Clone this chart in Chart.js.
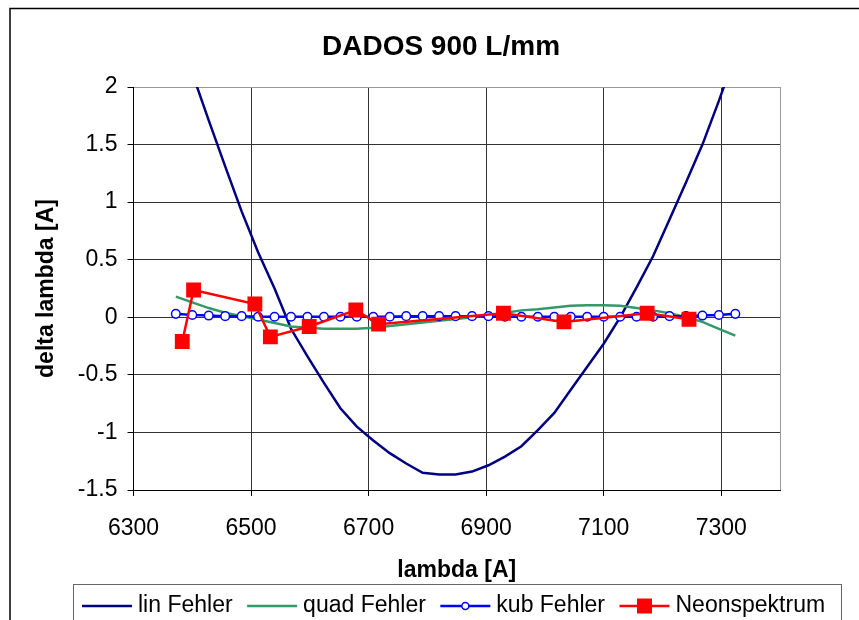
<!DOCTYPE html>
<html>
<head>
<meta charset="utf-8">
<title>DADOS 900 L/mm</title>
<script src="https://cdn.jsdelivr.net/npm/chart.js@4.4.1/dist/chart.umd.min.js"></script>
<style>
  html, body { margin: 0; padding: 0; background: #fff; }
  #wrap { width: 859px; height: 620px; position: relative; }
</style>
</head>
<body>
<div id="wrap"><canvas id="chart"></canvas></div>
<script>
// wavelengths of the fit curves
const lambdaFit = [6372, 6400, 6428, 6456, 6484, 6512, 6540, 6568, 6596, 6624,
                   6652, 6680, 6708, 6736, 6764, 6792, 6820, 6848, 6876, 6904,
                   6932, 6960, 6988, 7016, 7044, 7072, 7100, 7128, 7156, 7184,
                   7212, 7240, 7268, 7296, 7324];
const linFehler = [2.53, 2.12, 1.71, 1.31, 0.92, 0.565, 0.25, -0.10, -0.34, -0.57,
                   -0.79, -0.95, -1.07, -1.18, -1.27, -1.35, -1.365, -1.365, -1.34, -1.285,
                   -1.21, -1.12, -0.98, -0.83, -0.63, -0.43, -0.23, 0.0, 0.26, 0.53,
                   0.85, 1.17, 1.50, 1.88, 2.28];
const quadFehler = [0.18, 0.13, 0.08, 0.04, 0.01, -0.02, -0.05, -0.08, -0.09, -0.10,
                    -0.10, -0.10, -0.09, -0.075, -0.06, -0.045, -0.03, -0.015, 0.0, 0.015,
                    0.04, 0.06, 0.07, 0.085, 0.10, 0.105, 0.105, 0.10, 0.08, 0.06,
                    0.035, 0.0, -0.04, -0.10, -0.16];
const kubFehler = [0.03, 0.02, 0.015, 0.01, 0.01, 0.005, 0.005, 0.005, 0.005, 0.005,
                   0.005, 0.005, 0.005, 0.005, 0.01, 0.01, 0.01, 0.01, 0.01, 0.01,
                   0.005, 0.005, 0.005, 0.005, 0.005, 0.005, 0.005, 0.005, 0.005, 0.005,
                   0.01, 0.01, 0.015, 0.02, 0.03];

// neon lines
const neonLambda = [6382.99, 6402.25, 6506.53, 6532.88, 6598.95, 6678.28, 6717.04,
                    6929.47, 7032.41, 7173.94, 7245.17];
const neonDelta = [-0.21, 0.237, 0.115, -0.17, -0.08, 0.063, -0.06,
                   0.035, -0.04, 0.035, -0.017];

const xTicks = [6300, 6500, 6700, 6900, 7100, 7300];
const yTicks = [-1.5, -1, -0.5, 0, 0.5, 1, 1.5, 2];

const FONT = '"Liberation Sans", Arial, sans-serif';
Chart.defaults.font.family = FONT;
Chart.defaults.color = '#000';

function pts(xs, ys) {
    return xs.map((x, i) => ({x: x, y: ys[i]}));
}

const frame = {
    id: 'frame',
    beforeDraw(chart) {
        const ctx = chart.ctx;
        ctx.save();
        ctx.fillStyle = '#fff';
        ctx.fillRect(0, 0, chart.width, chart.height);
        ctx.restore();
    },
    afterDraw(chart) {
        const ctx = chart.ctx;
        ctx.save();
        ctx.strokeStyle = '#000';
        ctx.lineWidth = 1.5;
        ctx.strokeRect(10, 8.5, 2000, 2000);

        // legend box like Excel
        ctx.strokeStyle = '#666';
        ctx.lineWidth = 1;
        ctx.strokeRect(73.5, 584.5, 768, 80);
        ctx.font = '23px ' + FONT;
        ctx.textBaseline = 'middle';
        let x = 82;
        const y = 606;
        chart.data.datasets.forEach(ds => {
            ctx.strokeStyle = ds.borderColor;
            ctx.lineWidth = 2.5;
            ctx.beginPath();
            ctx.moveTo(x, y);
            ctx.lineTo(x + 50, y);
            ctx.stroke();
            if (ds.pointStyle === 'circle') {
                ctx.fillStyle = '#fff';
                ctx.lineWidth = 1.5;
                ctx.beginPath();
                ctx.arc(x + 25, y, 3.5, 0, Math.PI * 2);
                ctx.fill();
                ctx.stroke();
            } else if (ds.pointStyle === 'rect') {
                ctx.fillStyle = ds.pointBackgroundColor;
                ctx.fillRect(x + 25 - 7.5, y - 7.5, 15, 15);
            }
            ctx.fillStyle = '#000';
            ctx.fillText(ds.label, x + 56, y);
            x += 56 + ctx.measureText(ds.label).width + 14.5;
        });
        ctx.restore();
    }
};

const chartArea = document.getElementById('chart');
const chart = new Chart(chartArea, {
    type: 'scatter',
    data: {
        datasets: [{
            label: 'lin Fehler',
            data: pts(lambdaFit, linFehler),
            showLine: true,
            borderColor: '#000080',
            borderWidth: 2.5,
            pointRadius: 0,
            order: 4
        }, {
            label: 'quad Fehler',
            data: pts(lambdaFit, quadFehler),
            showLine: true,
            borderColor: '#339966',
            borderWidth: 2.5,
            pointRadius: 0,
            order: 3
        }, {
            label: 'kub Fehler',
            data: pts(lambdaFit, kubFehler),
            showLine: true,
            borderColor: '#0000ff',
            borderWidth: 2.5,
            pointStyle: 'circle',
            pointRadius: 4.3,
            pointBorderWidth: 1.5,
            pointBackgroundColor: '#fff',
            pointBorderColor: '#0000ff',
            order: 2
        }, {
            label: 'Neonspektrum',
            data: pts(neonLambda, neonDelta),
            showLine: true,
            borderColor: '#ff0000',
            borderWidth: 2.5,
            pointStyle: 'rect',
            pointRadius: 10.5,
            pointBorderWidth: 0,
            pointBackgroundColor: '#ff0000',
            pointBorderColor: '#ff0000',
            order: 1
        }]
    },
    options: {
        responsive: true,
        maintainAspectRatio: false,
        animation: false,
        events: [],
        layout: {
            padding: {left: 23, right: 0, top: 0, bottom: 36}
        },
        plugins: {
            legend: {display: false},
            tooltip: {enabled: false},
            title: {
                display: true,
                text: 'DADOS 900 L/mm',
                color: '#000',
                font: {size: 28, weight: 'bold'},
                padding: {top: 30, bottom: 23.4}
            }
        },
        scales: {
            x: {
                type: 'linear',
                min: 6300,
                max: 7400,
                afterBuildTicks: scale => {
                    scale.ticks = xTicks.concat([7400]).map(v => ({value: v}));
                },
                afterFit: scale => { scale.height = 94; },
                ticks: {
                    font: {size: 23},
                    padding: 19,
                    maxRotation: 0,
                    autoSkip: false,
                    callback: v => xTicks.includes(v) ? String(v) : ''
                },
                grid: {
                    color: c => (c.tick && c.tick.value === 7400) ? '#999' : '#333',
                    tickColor: c => (c.tick && c.tick.value === 7400) ? 'rgba(0,0,0,0)' : '#000',
                    tickLength: 6,
                    lineWidth: 1
                },
                border: {display: true, color: '#000', width: 1},
                title: {
                    display: true,
                    text: 'lambda [A]',
                    font: {size: 23, weight: 'bold'},
                    padding: {top: 0, bottom: 0}
                }
            },
            y: {
                min: -1.5,
                max: 2,
                afterBuildTicks: scale => {
                    scale.ticks = yTicks.map(v => ({value: v}));
                },
                afterFit: scale => { scale.width = 110.5; },
                ticks: {
                    font: {size: 23},
                    padding: 10,
                    autoSkip: false,
                    callback: v => String(v)
                },
                grid: {
                    color: c => (c.tick && c.tick.value === 2) ? '#999' : '#333',
                    tickColor: '#000',
                    tickLength: 6,
                    lineWidth: 1
                },
                border: {display: true, color: '#000', width: 1},
                title: {
                    display: true,
                    text: 'delta lambda [A]',
                    font: {size: 23, weight: 'bold'},
                    padding: {top: 10.2, bottom: 0}
                }
            },
            // empty right-hand box that keeps the plot area off the right edge
            yRight: {
                position: 'right',
                display: true,
                min: -1.5,
                max: 2,
                afterFit: scale => { scale.width = 79; },
                ticks: {display: false},
                grid: {display: false, drawTicks: false},
                border: {display: false}
            }
        }
    },
    plugins: [frame]
});
</script>
</body>
</html>
